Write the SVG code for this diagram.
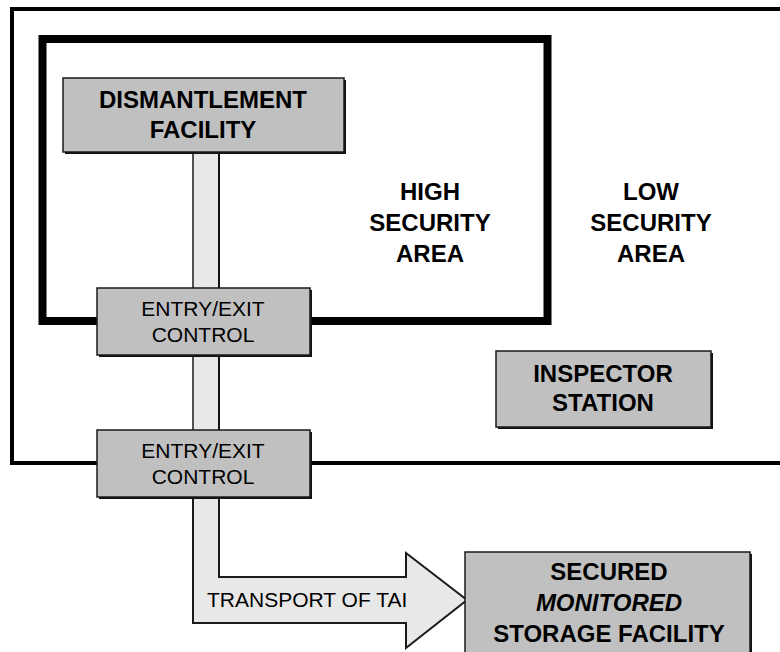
<svg xmlns="http://www.w3.org/2000/svg" width="780" height="652" viewBox="0 0 780 652">
<style>
.bx{fill:#c0c0c0;stroke:#1a1a1a;stroke-width:1.5}
.sh{fill:#111}
.pipe{fill:#e8e8e8;stroke:#1a1a1a;stroke-width:1.5}
.tb{font-family:"Liberation Sans",Arial,sans-serif;font-weight:bold;font-size:24px;fill:#000;text-anchor:middle}
.tr{font-family:"Liberation Sans",Arial,sans-serif;font-size:21px;fill:#000;text-anchor:middle}
</style>
<rect width="780" height="652" fill="#fff"/>
<g id="low-security-area">
<path d="M790,9 H12 V463 H790" fill="none" stroke="#000" stroke-width="4"/>
<text class="tb" x="651" y="200">LOW</text>
<text class="tb" x="651" y="231">SECURITY</text>
<text class="tb" x="651" y="262">AREA</text>
</g>
<g id="high-security-area">
<rect x="42.5" y="39" width="505" height="282" fill="none" stroke="#000" stroke-width="8"/>
<text class="tb" x="430" y="200">HIGH</text>
<text class="tb" x="430" y="231">SECURITY</text>
<text class="tb" x="430" y="262">AREA</text>
</g>
<g id="connectors">
<rect class="pipe" x="193" y="153" width="26" height="136"/>
<line x1="219" y1="153" x2="219" y2="289" stroke="#111" stroke-width="2"/>
<rect class="pipe" x="193" y="355" width="26" height="76"/>
<line x1="219" y1="355" x2="219" y2="431" stroke="#111" stroke-width="2"/>
<path d="M193,496 H219 V577 H406 V553 L467,600 L406,648 V623 H193 Z" fill="#e8e8e8" stroke="#1a1a1a" stroke-width="2" stroke-linejoin="miter"/>
<text class="tr" x="207" y="607" style="text-anchor:start">TRANSPORT OF TAI</text>
</g>
<g id="dismantlement-facility">
<rect class="sh" x="65" y="80" width="281" height="74"/>
<rect class="bx" x="63" y="78" width="281" height="74"/>
<text class="tb" x="203" y="108">DISMANTLEMENT</text>
<text class="tb" x="203" y="138">FACILITY</text>
</g>
<g id="entry-exit-control-1">
<rect class="sh" x="99" y="290" width="213" height="67"/>
<rect class="bx" x="97" y="288" width="213" height="67"/>
<text class="tr" x="203" y="316">ENTRY/EXIT</text>
<text class="tr" x="203" y="342">CONTROL</text>
</g>
<g id="entry-exit-control-2">
<rect class="sh" x="99" y="432" width="213" height="67"/>
<rect class="bx" x="97" y="430" width="213" height="67"/>
<text class="tr" x="203" y="458">ENTRY/EXIT</text>
<text class="tr" x="203" y="484">CONTROL</text>
</g>
<g id="inspector-station">
<rect class="sh" x="498" y="353" width="215" height="76"/>
<rect class="bx" x="496" y="351" width="215" height="76"/>
<text class="tb" x="603" y="382">INSPECTOR</text>
<text class="tb" x="603" y="411">STATION</text>
</g>
<g id="secured-monitored-storage-facility">
<rect class="sh" x="467" y="554" width="285" height="110"/>
<rect class="bx" x="465" y="552" width="285" height="110"/>
<text class="tb" x="609" y="580">SECURED</text>
<text class="tb" x="609" y="611" font-style="italic">MONITORED</text>
<text class="tb" x="609" y="642">STORAGE FACILITY</text>
</g>
</svg>
